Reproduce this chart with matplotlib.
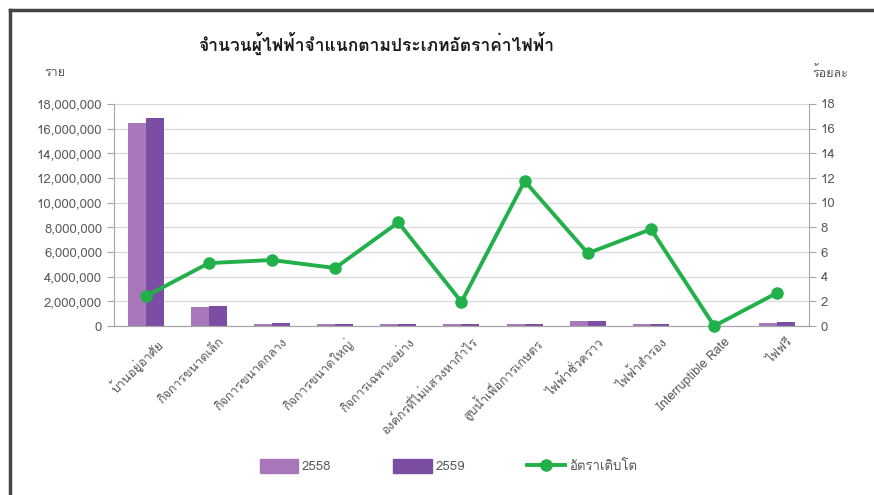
"""Chart: number of electricity users by tariff type (2558 vs 2559) with growth rate."""

import matplotlib
matplotlib.use("Agg")
import matplotlib.pyplot as plt
import matplotlib.transforms as mtransforms
import numpy as np
from matplotlib import font_manager as fm
from matplotlib.ft2font import FT2Font
from matplotlib.lines import Line2D
from matplotlib.patches import Patch

categories = [
    "บ้านอยู่อาศัย",
    "กิจการขนาดเล็ก",
    "กิจการขนาดกลาง",
    "กิจการขนาดใหญ่",
    "กิจการเฉพาะอย่าง",
    "องค์กรที่ไม่แสวงหากำไร",
    "สูบน้ำเพื่อการเกษตร",
    "ไฟฟ้าชั่วคราว",
    "ไฟฟ้าสำรอง",
    "Interruptible Rate",
    "ไฟฟรี",
]
users_2558 = [16500000, 1550000, 200000, 150000, 150000, 150000, 150000, 380000, 150000, 0, 280000]
users_2559 = [16850000, 1620000, 210000, 155000, 160000, 155000, 160000, 400000, 155000, 0, 290000]
growth = [2.4, 5.1, 5.35, 4.7, 8.4, 1.95, 11.75, 5.9, 7.85, 0.0, 2.7]

left_ticks = np.arange(0, 18000001, 2000000)
right_ticks = np.arange(0, 19, 2)

C_2558 = "#a877b9"
C_2559 = "#7b4ea3"
C_LINE = "#22b04b"
C_TEXT = "#595959"
C_AXIS = "#a6a6a6"


def thai_family():
    # find any installed font that covers the Thai block
    for f in fm.fontManager.ttflist:
        try:
            if 0x0E01 in FT2Font(f.fname).get_charmap():
                return f.name
        except Exception:
            continue
    return None


fam = thai_family()
plt.rcParams["font.family"] = ([fam] if fam else []) + ["DejaVu Sans"]

fig = plt.figure(figsize=(8.74, 4.95), dpi=100)
ax = fig.add_axes([0.1304, 0.3414, 0.7952, 0.4485])
ax2 = ax.twinx()

x = np.arange(len(categories))
w = 0.285
ax.bar(x - w / 2, users_2558, w, color=C_2558, zorder=2)
ax.bar(x + w / 2, users_2559, w, color=C_2559, zorder=2)

ax2.plot(x, growth, color=C_LINE, linewidth=2.8, marker="o", markersize=8,
         zorder=3, clip_on=False)

ax.set_xlim(-0.5, len(categories) - 0.5)
ax.set_ylim(0, 18000000)
ax2.set_ylim(0, 18)
ax.set_yticks(left_ticks)
ax.set_yticklabels([f"{v:,.0f}" for v in left_ticks])
ax2.set_yticks(right_ticks)
ax.grid(axis="y", color="#d9d9d9", linewidth=0.9, zorder=0)
ax.set_axisbelow(True)

for a in (ax, ax2):
    for s in a.spines.values():
        s.set_color(C_AXIS)
    a.spines["top"].set_visible(False)
    a.tick_params(axis="y", colors=C_AXIS, labelcolor=C_TEXT, labelsize=9.5,
                  length=5, direction="out")
ax2.spines["left"].set_visible(False)
ax.spines["right"].set_visible(False)

ax.set_xticks(x)
ax.set_xticklabels(categories, rotation=45, ha="right", rotation_mode="anchor",
                   fontsize=9, color=C_TEXT)
ax.tick_params(axis="x", length=0, pad=7)
shift = mtransforms.ScaledTranslation(7 / 72, 0, fig.dpi_scale_trans)
for lbl in ax.get_xticklabels():
    lbl.set_transform(lbl.get_transform() + shift)

fig.text(0.43, 0.912, "จำนวนผู้ไฟฟ้าจำแนกตามประเภทอัตราค่าไฟฟ้า", ha="center",
         va="center", fontsize=12.5, fontweight="bold", color="#1a1a1a")
fig.text(0.063, 0.852, "ราย", ha="center", va="center", fontsize=9, color=C_TEXT)
fig.text(0.95, 0.852, "ร้อยละ", ha="center", va="center", fontsize=9, color=C_TEXT)

handles = [
    Patch(color=C_2558, label="2558"),
    Patch(color=C_2559, label="2559"),
    Line2D([], [], color=C_LINE, linewidth=2.8, marker="o", markersize=8,
           label="อัตราเติบโต"),
]
fig.legend(handles=handles, loc="center", bbox_to_anchor=(0.513, 0.058), ncol=3,
           frameon=False, fontsize=9.5, handlelength=2.9, handleheight=1.2,
           columnspacing=4.7, handletextpad=0.3, labelcolor=C_TEXT)

# outer frame (left and top edges)
fig.add_artist(Line2D([0.012, 0.012], [0, 0.98], transform=fig.transFigure,
                      color="#444444", linewidth=2.5))
fig.add_artist(Line2D([0.012, 1.0], [0.98, 0.98], transform=fig.transFigure,
                      color="#444444", linewidth=2.5))

fig.savefig("out.png", dpi=100)
